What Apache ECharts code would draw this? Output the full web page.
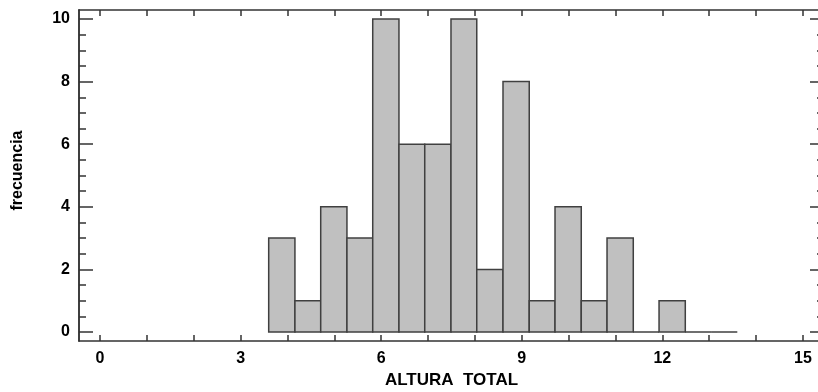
<!DOCTYPE html>
<html>
<head>
<meta charset="utf-8">
<script src="https://cdn.jsdelivr.net/npm/echarts@6/dist/echarts.min.js"></script>
<style>
  html, body { margin: 0; padding: 0; background: #fff; }
  #chart { width: 818px; height: 392px; }
</style>
</head>
<body>
<div id="chart"></div>
<script>
// histogram bin edges (ALTURA TOTAL) and counts per bin
const binEdges = [3.6, 4.16, 4.71, 5.27, 5.82, 6.38, 6.93, 7.49, 8.04, 8.6,
                  9.16, 9.71, 10.27, 10.82, 11.38, 11.93, 12.49, 13.04, 13.6];
const counts = [3, 1, 4, 3, 10, 6, 6, 10, 2, 8, 1, 4, 1, 3, 0, 1, 0, 0];

const xTicks = [0, 1, 2, 3, 4, 5, 6, 7, 8, 9, 10, 11, 12, 13, 14, 15];
const xLabels = [0, 3, 6, 9, 12, 15];
const yLabels = [0, 2, 4, 6, 8, 10];
const yMinor = [0.5, 1, 1.5, 2.5, 3, 3.5, 4.5, 5, 5.5, 6.5, 7, 7.5, 8.5, 9, 9.5];

const xMin = -0.448, xMax = 15.45;
const yMin = -0.288, yMax = 10.288;

const lineStyle = { color: '#333', width: 1.5 };
const labelFont = { fontFamily: 'Liberation Sans', fontWeight: 'bold', color: '#000' };

let data = [];
for (let i = 0; i < counts.length; i++) {
    data.push([binEdges[i], binEdges[i + 1], counts[i]]);
}

function yAxisDef(pos, ticks, len, withLabel) {
    return {
        type: 'value', position: pos, min: yMin, max: yMax,
        axisLine: { show: true, onZero: false, lineStyle: lineStyle },
        axisTick: { show: true, inside: true, length: len, customValues: ticks, lineStyle: lineStyle },
        axisLabel: withLabel ? Object.assign({ show: true, fontSize: 16, margin: 9, customValues: yLabels }, labelFont) : { show: false },
        splitLine: { show: false }
    };
}

let chart = echarts.init(document.getElementById('chart'));
chart.setOption({
    backgroundColor: '#fff',
    animation: false,
    grid: { left: 79, right: -6, top: 10, bottom: 51, containLabel: false, outerBoundsMode: 'none' },
    xAxis: [
        {
            type: 'value', position: 'bottom', min: xMin, max: xMax,
            name: 'ALTURA  TOTAL', nameLocation: 'middle', nameGap: 31,
            nameTextStyle: Object.assign({ fontSize: 17 }, labelFont),
            axisLine: { show: true, onZero: false, lineStyle: lineStyle },
            axisTick: { show: true, inside: true, length: 6, customValues: xTicks, lineStyle: lineStyle },
            axisLabel: Object.assign({ fontSize: 16, margin: 10, customValues: xLabels }, labelFont),
            splitLine: { show: false }
        },
        {
            type: 'value', position: 'top', min: xMin, max: xMax,
            axisLine: { show: true, onZero: false, lineStyle: lineStyle },
            axisTick: { show: true, inside: true, length: 6, customValues: xTicks, lineStyle: lineStyle },
            axisLabel: { show: false },
            splitLine: { show: false }
        }
    ],
    yAxis: [
        Object.assign(yAxisDef('left', yLabels, 14, true), {
            name: 'frecuencia', nameLocation: 'middle', nameGap: 53, nameRotate: 90,
            nameTextStyle: Object.assign({ fontSize: 16, padding: [0, 0, 0, 10] }, labelFont)
        }),
        yAxisDef('left', yMinor, 7, false),
        yAxisDef('right', yLabels, 14, false),
        yAxisDef('right', yMinor, 7, false)
    ],
    series: [{
        type: 'custom',
        xAxisIndex: 0,
        yAxisIndex: 0,
        data: data,
        encode: { x: [0, 1], y: 2 },
        renderItem: function (params, api) {
            let p0 = api.coord([api.value(0), 0]);
            let p1 = api.coord([api.value(1), api.value(2)]);
            return {
                type: 'rect',
                shape: { x: p0[0], y: p1[1], width: p1[0] - p0[0], height: p0[1] - p1[1] },
                style: { fill: '#c0c0c0', stroke: '#404040', lineWidth: 1.5 }
            };
        }
    }]
});
</script>
</body>
</html>
